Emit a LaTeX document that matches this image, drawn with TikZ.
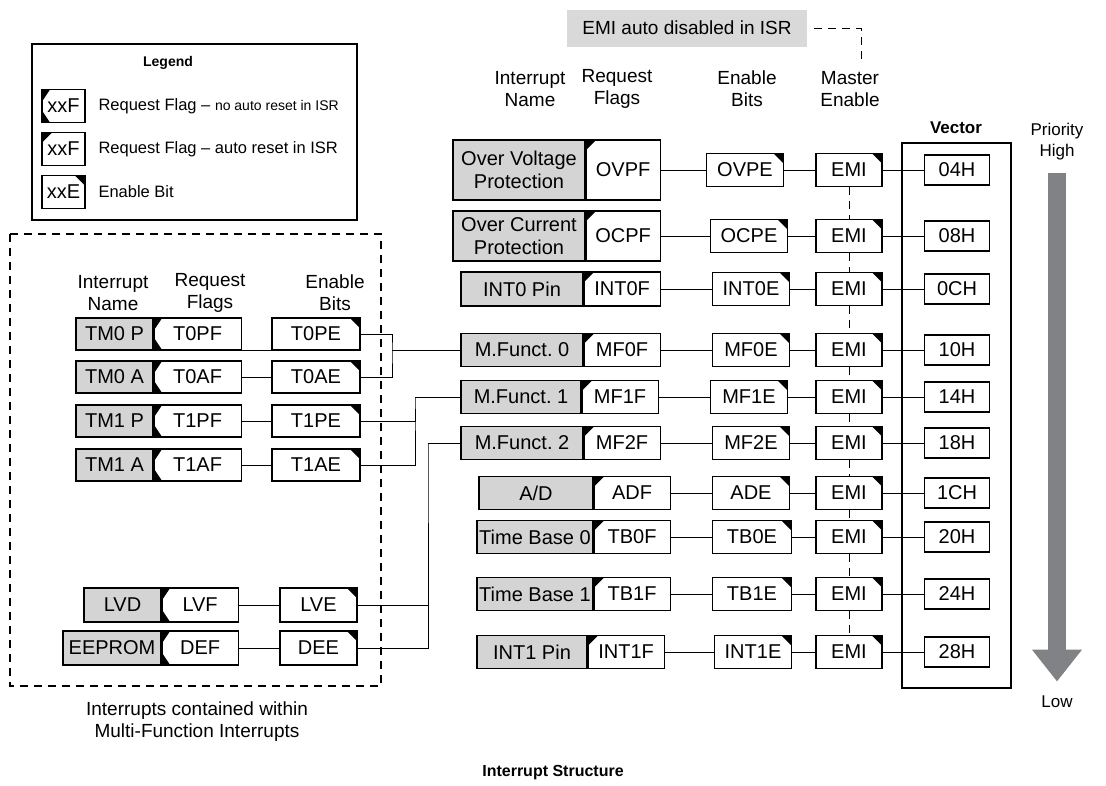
\documentclass[tikz,border=0pt]{standalone}
\usepackage{fontspec}
\setmainfont{Liberation Sans}
\usepackage{xcolor}
\usetikzlibrary{arrows.meta, positioning}
\definecolor{grisbox}{HTML}{D4D4D4}
\definecolor{grisnota}{HTML}{D9D9D9}
\definecolor{grisflecha}{HTML}{808285}
\tikzset{
  every picture/.style={font=\fontsize{19}{22}\selectfont, >=Stealth},
  caja/.style={draw, line width=1.1pt, fill=white, inner sep=0pt, minimum height=33pt, align=center,
               font=\fontsize{20}{23}\selectfont},
  intn/.style={caja, fill=grisbox},
  flgn/.style={caja, path picture={
      \fill[black] (path picture bounding box.north west) -- ++(8pt,0pt) -- ++(-8pt,-12pt) -- cycle;
      \fill[black] (path picture bounding box.south west) -- ++(8pt,0pt) -- ++(-8pt,12pt) -- cycle;}},
  flga/.style={caja, minimum width=76pt, path picture={
      \fill[black] (path picture bounding box.north west) -- ++(10pt,0pt) -- ++(-10pt,-10pt) -- cycle;}},
  enb/.style={caja, minimum width=77pt, path picture={
      \fill[black] (path picture bounding box.north east) -- ++(-10pt,0pt) -- ++(10pt,-10pt) -- cycle;}},
  emi/.style={enb, minimum width=66pt},
  vec/.style={caja, minimum width=65pt, minimum height=30pt},
  cab/.style={align=center},
  leyt/.style={anchor=west, font=\fontsize{16.5}{19}\selectfont},
  conn/.style={line width=1pt},
  connd/.style={line width=1pt, dash pattern=on 8pt off 6pt},
  prioflecha/.style={line width=18pt, draw=grisflecha, -{Triangle[width=48pt, length=32pt]}},
}
\begin{document}
\frenchspacing
\begin{tikzpicture}[x=1pt, y=-1pt]
  \useasboundingbox (0,0) rectangle (1106,785);
  % leyenda
  \draw[line width=1.6pt] (32,44) rectangle (357,220);
  \node[font=\bfseries\fontsize{14}{17}\selectfont] (legtit) at (168,63) {Legend};
  \node[flgn, minimum width=43pt] (lg1) at (63.5,106) {xxF};
  \node[flga, minimum width=43pt] (lg2) at (63.5,149) {xxF};
  \node[enb, minimum width=43pt] (lg3) at (63.5,192) {xxE};
  \node[leyt] (lt1) at (95,106) {Request Flag -- {\fontsize{14}{16}\selectfont no auto reset in ISR}};
  \node[leyt] (lt2) at (95,149) {Request Flag -- auto reset in ISR};
  \node[leyt] (lt3) at (95,192) {Enable Bit};

  % interrupciones multi-funcion
  \draw[line width=1.2pt, dash pattern=on 8pt off 6pt] (10,234) rectangle (381,686);
  \node[cab] (h1) at (113,293) {Interrupt\\Name};
  \node[cab] (h2) at (210,293) {Request\\Flags};
  \node[cab] (h3) at (335,293) {Enable\\Bits};
  \node[intn, minimum width=77pt, minimum height=32pt] (tm0p) at (114.5,334) {TM0 P};
  \node[flgn, minimum width=87pt, minimum height=32pt, right=0pt of tm0p] (t0pf) {T0PF};
  \node[enb, minimum width=88pt, minimum height=32pt] (t0pe) at (316,334) {T0PE};
  \node[intn, minimum width=77pt, minimum height=32pt] (tm0a) at (114.5,377) {TM0 A};
  \node[flgn, minimum width=87pt, minimum height=32pt, right=0pt of tm0a] (t0af) {T0AF};
  \node[enb, minimum width=88pt, minimum height=32pt] (t0ae) at (316,377) {T0AE};
  \node[intn, minimum width=77pt, minimum height=32pt] (tm1p) at (114.5,421) {TM1 P};
  \node[flgn, minimum width=87pt, minimum height=32pt, right=0pt of tm1p] (t1pf) {T1PF};
  \node[enb, minimum width=88pt, minimum height=32pt] (t1pe) at (316,421) {T1PE};
  \node[intn, minimum width=77pt, minimum height=32pt] (tm1a) at (114.5,465) {TM1 A};
  \node[flgn, minimum width=87pt, minimum height=32pt, right=0pt of tm1a] (t1af) {T1AF};
  \node[enb, minimum width=88pt, minimum height=32pt] (t1ae) at (316,465) {T1AE};
  \node[intn, minimum width=77pt, minimum height=34pt] (lvd) at (122.5,605) {LVD};
  \node[flgn, minimum width=76pt, minimum height=34pt, right=0pt of lvd] (lvf) {LVF};
  \node[enb, minimum height=34pt] (lve) at (318.5,605) {LVE};
  \node[intn, minimum width=98pt, minimum height=34pt] (eep) at (112,648) {EEPROM};
  \node[flgn, minimum width=76pt, minimum height=34pt, right=0pt of eep] (def) {DEF};
  \node[enb, minimum height=34pt] (dee) at (318.5,648) {DEE};
  \node[cab] (cap) at (197,722) {Interrupts contained within\\Multi-Function Interrupts};

  % cabeceras
  \node[fill=grisnota, minimum width=240pt, minimum height=37pt] (emiauto) at (687,28) {EMI auto disabled in ISR};
  \node[cab] (c1) at (530,89) {Interrupt\\Name};
  \node[cab] (c2) at (617,89) {Request\\Flags};
  \node[cab] (c3) at (747,89) {Enable\\Bits};
  \node[cab] (c4) at (850,89) {Master\\Enable};
  \node[font=\bfseries\fontsize{17}{20}\selectfont] (vectit) at (956,128) {Vector};
  \node[draw, line width=1.1pt, minimum width=109pt, minimum height=545pt] (vecbox) at (956.5,415.5) {};

  % filas
  \node[intn, minimum width=132pt, minimum height=60pt] (ovp) at (519,170) {Over Voltage\\Protection};
  \node[flga, minimum width=74pt, minimum height=60pt, right=0pt of ovp] (ovpf) {OVPF};
  \node[enb] (ovpe) at (745,170) {OVPE};
  \node[emi] (emi1) at (849,170) {EMI};
  \node[vec] (v1) at (957,170) {04H};
  \node[intn, minimum width=132pt, minimum height=50pt] (ocp) at (519,236) {Over Current\\Protection};
  \node[flga, minimum width=74pt, minimum height=50pt, right=0pt of ocp] (ocpf) {OCPF};
  \node[enb] (ocpe) at (749,236) {OCPE};
  \node[emi] (emi2) at (849,236) {EMI};
  \node[vec] (v2) at (957,236) {08H};
  \node[intn, minimum width=122pt, minimum height=34pt] (int0) at (522,289) {INT0 Pin};
  \node[flga, minimum height=34pt, right=0pt of int0] (int0f) {INT0F};
  \node[enb] (int0e) at (751,289) {INT0E};
  \node[emi] (emi3) at (849,289) {EMI};
  \node[vec] (v3) at (957,289) {0CH};
  \node[intn, minimum width=122pt] (mf0) at (522,350) {M.Funct. 0};
  \node[flga, right=0pt of mf0] (mf0f) {MF0F};
  \node[enb] (mf0e) at (751,350) {MF0E};
  \node[emi] (emi4) at (849,350) {EMI};
  \node[vec] (v4) at (957,350) {10H};
  \node[intn, minimum width=120pt] (mf1) at (521,397) {M.Funct. 1};
  \node[flga, right=0pt of mf1] (mf1f) {MF1F};
  \node[enb] (mf1e) at (749,397) {MF1E};
  \node[emi] (emi5) at (849,397) {EMI};
  \node[vec] (v5) at (957,397) {14H};
  \node[intn, minimum width=122pt] (mf2) at (522,443) {M.Funct. 2};
  \node[flga, right=0pt of mf2] (mf2f) {MF2F};
  \node[enb] (mf2e) at (751,443) {MF2E};
  \node[emi] (emi6) at (849,443) {EMI};
  \node[vec] (v6) at (957,443) {18H};
  \node[intn, minimum width=114pt] (ad) at (536,493) {A/D};
  \node[flga, right=0pt of ad] (adf) {ADF};
  \node[enb] (ade) at (751,493) {ADE};
  \node[emi] (emi7) at (849,493) {EMI};
  \node[vec] (v7) at (957,493) {1CH};
  \node[intn, minimum width=116pt] (tb0) at (535,537) {Time Base 0};
  \node[flga, right=0pt of tb0] (tb0f) {TB0F};
  \node[enb, minimum width=79pt] (tb0e) at (752,537) {TB0E};
  \node[emi] (emi8) at (849,537) {EMI};
  \node[vec] (v8) at (957,537) {20H};
  \node[intn, minimum width=116pt] (tb1) at (535,594) {Time Base 1};
  \node[flga, right=0pt of tb1] (tb1f) {TB1F};
  \node[enb, minimum width=79pt] (tb1e) at (752,594) {TB1E};
  \node[emi] (emi9) at (849,594) {EMI};
  \node[vec] (v9) at (957,594) {24H};
  \node[intn, minimum width=110pt] (int1) at (532,652) {INT1 Pin};
  \node[flga, right=0pt of int1] (int1f) {INT1F};
  \node[enb] (int1e) at (753,652) {INT1E};
  \node[emi] (emi10) at (849,652) {EMI};
  \node[vec] (v10) at (957,652) {28H};

  % conexiones
  \draw[conn] (ovpf) -- (ovpe) -- (emi1) -- (v1);
  \draw[conn] (ocpf) -- (ocpe) -- (emi2) -- (v2);
  \draw[conn] (int0f) -- (int0e) -- (emi3) -- (v3);
  \draw[conn] (mf0f) -- (mf0e) -- (emi4) -- (v4);
  \draw[conn] (mf1f) -- (mf1e) -- (emi5) -- (v5);
  \draw[conn] (mf2f) -- (mf2e) -- (emi6) -- (v6);
  \draw[conn] (adf) -- (ade) -- (emi7) -- (v7);
  \draw[conn] (tb0f) -- (tb0e) -- (emi8) -- (v8);
  \draw[conn] (tb1f) -- (tb1e) -- (emi9) -- (v9);
  \draw[conn] (int1f) -- (int1e) -- (emi10) -- (v10);
  \draw[connd] (emi1) -- (emi2) (emi2) -- (emi3) (emi3) -- (emi4) (emi4) -- (emi5) (emi5) -- (emi6);
  \draw[connd] (emi6) -- (emi7) (emi7) -- (emi8) (emi8) -- (emi9) (emi9) -- (emi10);
  \coordinate (emid) at (861,64);
  \draw[connd] ([xshift=7pt]emiauto.east) -| (emid);

  \draw[conn] (t0pf.south east) -- (t0pe.south west);
  \draw[conn] (t0af) -- (t0ae);
  \draw[conn] (t1pf) -- (t1pe);
  \draw[conn] (t1af) -- (t1ae);
  \draw[conn] (lvf) -- (lve);
  \draw[conn] (def) -- (dee);
  \coordinate (j0) at (392,350);
  \coordinate (j1) at (415,397);
  \coordinate (j2) at (428,443);
  \draw[conn] (t0pe) -| (j0) |- (t0ae); \draw[conn] (j0) -- (mf0);
  \draw[conn] (t1pe) -| (j1) |- (t1ae); \draw[conn] (j1) -- (mf1);
  \draw[conn] (lve) -| (j2) |- (dee); \draw[conn] (j2) -- (mf2);

  % prioridad
  \node[cab, font=\fontsize{17}{21}\selectfont] (prio) at (1057,142) {Priority\\High};
  \node[font=\fontsize{17}{21}\selectfont] (low) at (1057,702) {Low};
  \draw[prioflecha] ([yshift=-9pt]prio.south) -- ([yshift=11pt]low.north);

  \node[font=\bfseries\fontsize{16}{19}\selectfont] (titulo) at (553,773) {Interrupt Structure};
\end{tikzpicture}
\end{document}
